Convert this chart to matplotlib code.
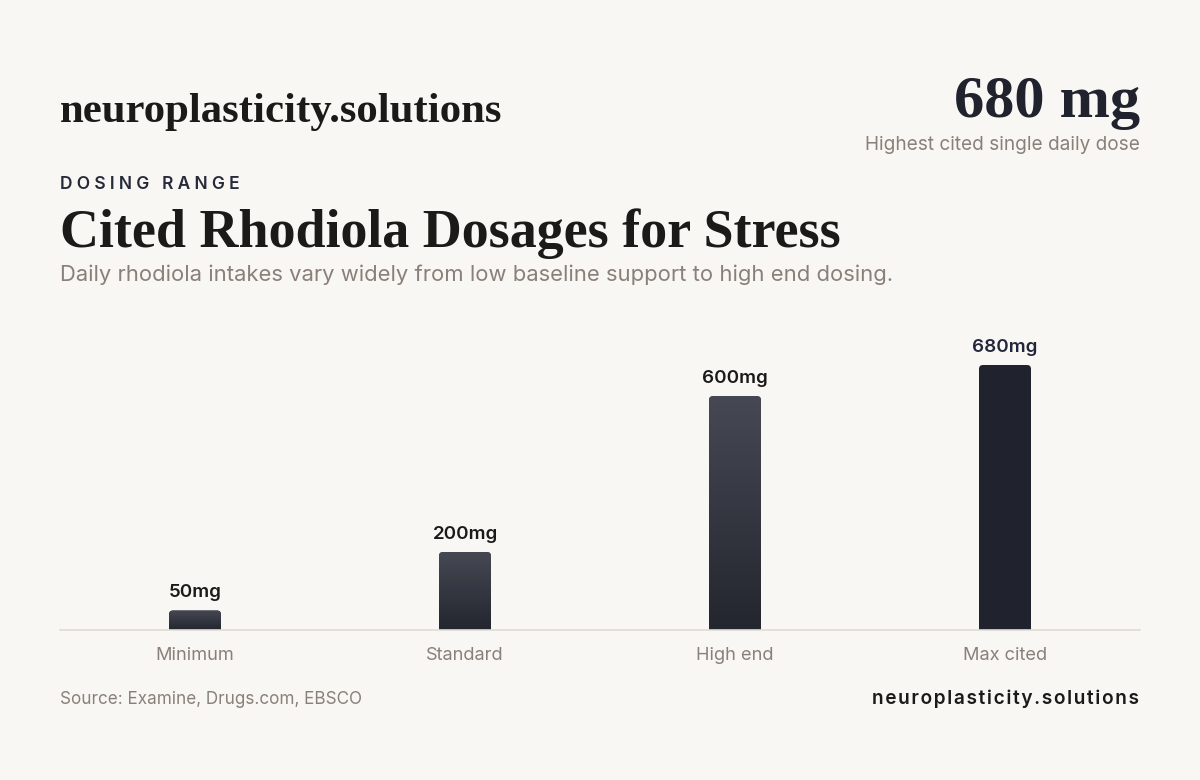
import matplotlib
matplotlib.use("Agg")
import matplotlib.pyplot as plt
import numpy as np
from matplotlib.patches import FancyBboxPatch
from matplotlib.colors import LinearSegmentedColormap

# ---- data ----
categories = ["Minimum", "Standard", "High end", "Max cited"]
doses_mg = [50, 200, 600, 680]
value_labels = ["50mg", "200mg", "600mg", "680mg"]

headline_value = "680 mg"
headline_caption = "Highest cited single daily dose"
brand = "neuroplasticity.solutions"
kicker = "DOSING RANGE"
title = "Cited Rhodiola Dosages for Stress"
subtitle = "Daily rhodiola intakes vary widely from low baseline support to high end dosing."
source = "Source: Examine, Drugs.com, EBSCO"

# ---- style ----
BG = "#f8f7f3"
GREY = "#8a8079"
DARK = "#1b1a18"
NAVY = "#20232d"
SERIF = ["Liberation Serif", "DejaVu Serif"]
SANS = ["Inter", "DejaVu Sans"]

W, H = 1200, 780
fig = plt.figure(figsize=(W / 100, H / 100), dpi=100, facecolor=BG)


def fy(y):
    return 1 - y / H


def fx(x):
    return x / W


def spaced(s, sep="\u2009"):
    return sep.join(list(s))


ax = fig.add_axes([fx(60), 150 / H, 1080 / W, 300 / H])
ax.set_facecolor(BG)
ymax = 680 * 300 / 265
x = np.arange(len(categories))
bar_w = 52 / 270
bars = ax.bar(x, doses_mg, width=bar_w, color="none", edgecolor="none")

grad_cmap = LinearSegmentedColormap.from_list("g", ["#23262f", "#464853"])
grad = np.linspace(0, 1, 256).reshape(-1, 1)
aspect = (ymax / 300) * 270
for i, b in enumerate(bars):
    bx, bw, bh = b.get_x(), b.get_width(), b.get_height()
    last = i == len(bars) - 1
    patch = FancyBboxPatch((bx, -20), bw, bh + 20,
                           boxstyle=f"round,pad=0,rounding_size={4 / 270}",
                           mutation_aspect=aspect,
                           facecolor=NAVY if last else "#2c2f39",
                           edgecolor="none", zorder=2)
    ax.add_patch(patch)
    if not last:
        im = ax.imshow(grad, extent=(bx, bx + bw, 0, bh), origin="lower",
                       aspect="auto", cmap=grad_cmap, zorder=3)
        im.set_clip_path(patch)
    ax.annotate(value_labels[i], (b.get_x() + bw / 2, bh), xytext=(0, 9.5),
                textcoords="offset points", ha="center", va="baseline",
                fontsize=13.5, fontweight="semibold", family=SANS,
                color="#22263a" if last else DARK)

ax.set_xlim(-0.5, len(categories) - 0.5)
ax.set_ylim(0, ymax)
ax.axhline(0, color="#dfdcd7", lw=1.2, zorder=4, clip_on=False)
for s in ax.spines.values():
    s.set_visible(False)
ax.set_yticks([])
ax.set_xticks(x, categories)
ax.tick_params(axis="x", length=0, pad=12, labelsize=13.1, labelcolor=GREY)
for t in ax.get_xticklabels():
    t.set_family(SANS)

# ---- header ----
fig.text(fx(60), fy(122), brand, family=SERIF, fontweight="bold",
         fontsize=30.8, color=DARK, va="baseline", ha="left")
fig.text(fx(1140), fy(117), headline_value, family=SERIF, fontweight="bold",
         fontsize=43.5, color=NAVY, va="baseline", ha="right")
fig.text(fx(1140), fy(150), headline_caption, family=SANS, fontsize=13.7,
         color=GREY, va="baseline", ha="right")
fig.text(fx(60), fy(189), spaced(kicker, "\u2009\u200a"), family=SANS,
         fontweight="semibold", fontsize=12.5, color="#262a3a",
         va="baseline", ha="left")
fig.text(fx(60), fy(247), title, family=SERIF, fontweight="bold",
         fontsize=38.9, color=DARK, va="baseline", ha="left")
fig.text(fx(60), fy(281), subtitle, family=SANS, fontsize=15.85,
         color=GREY, va="baseline", ha="left")

# ---- footer ----
fig.text(fx(60), fy(704), source, family=SANS, fontsize=12.3,
         color=GREY, va="baseline", ha="left")
fig.text(fx(1139), fy(704), spaced(brand, "\u200a"), family=SANS,
         fontweight="semibold", fontsize=13.7, color=DARK,
         va="baseline", ha="right")

fig.savefig("out.png", dpi=100, facecolor=BG)
